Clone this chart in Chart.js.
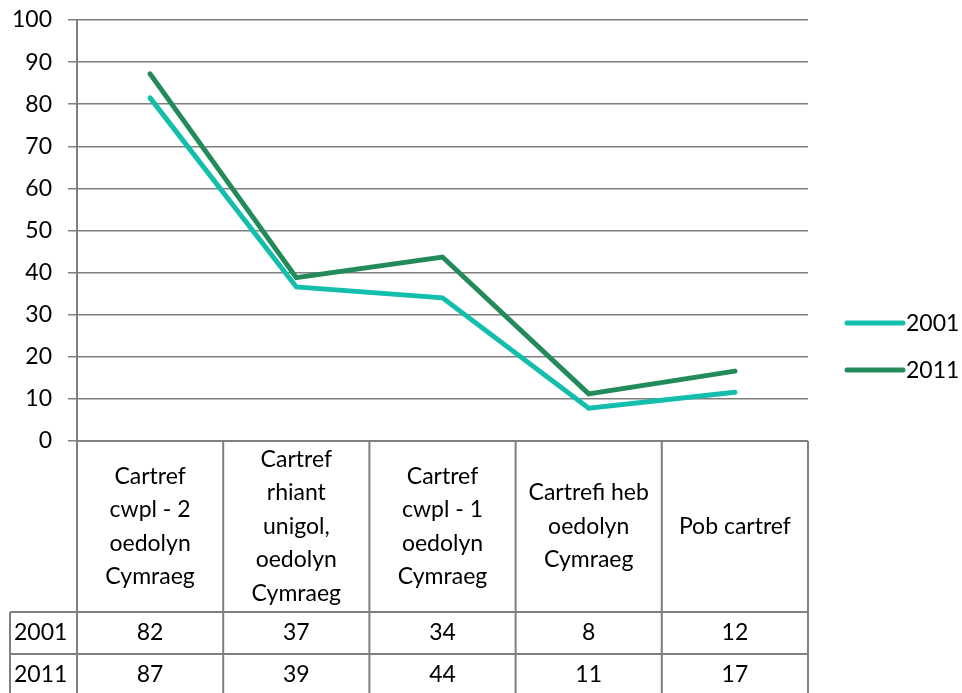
<!DOCTYPE html>
<html><head><meta charset="utf-8">
<style>html,body{margin:0;padding:0;background:#fff}#wrap{width:962px;height:693px}</style>
<script src="https://cdn.jsdelivr.net/npm/chart.js@4/dist/chart.umd.min.js"></script>
</head><body><div id="wrap"><canvas id="c" width="962" height="693"></canvas></div>
<script>
const categories = [
  ["Cartref", "cwpl - 2", "oedolyn", "Cymraeg"],
  ["Cartref", "rhiant", "unigol,", "oedolyn", "Cymraeg"],
  ["Cartref", "cwpl - 1", "oedolyn", "Cymraeg"],
  ["Cartrefi heb", "oedolyn", "Cymraeg"],
  ["Pob cartref"]
];
const seriesNames = ["2001", "2011"];
const values2001 = [81.5, 36.6, 34.0, 7.8, 11.6];
const values2011 = [87.2, 38.8, 43.7, 11.2, 16.6];
const yMin = 0, yMax = 100, yStep = 10;

const FONT = "Lato, 'Liberation Sans', sans-serif";
const FSIZE = 23;
const GRID = '#7f7f7f';
const colors = ['#13bfac', '#238b5a'];

const tablePlugin = {
  id: 'dataTable',
  afterDraw(chart) {
    const ctx = chart.ctx, xs = chart.scales.x, ys = chart.scales.y, ca = chart.chartArea;
    const n = chart.data.labels.length;
    const w = (ca.right - ca.left) / n;
    const top = ys.getPixelForValue(yMin);
    const hdrBottom = top + 171;
    const row1 = hdrBottom + 42;
    const row2 = row1 + 42;
    const leftCol = 10;
    const bounds = [];
    for (let i = 0; i < n; i++) bounds.push(xs.getPixelForValue(i) - w / 2);
    bounds.push(xs.getPixelForValue(n - 1) + w / 2);
    ctx.save();
    ctx.strokeStyle = GRID;
    ctx.lineWidth = 2;
    ctx.beginPath();
    bounds.forEach(b => { ctx.moveTo(b, top); ctx.lineTo(b, row2); });
    ctx.moveTo(ca.left, top); ctx.lineTo(bounds[n], top);
    ctx.moveTo(leftCol, hdrBottom); ctx.lineTo(bounds[n], hdrBottom);
    ctx.moveTo(leftCol, row1); ctx.lineTo(bounds[n], row1);
    ctx.moveTo(leftCol, row2); ctx.lineTo(bounds[n], row2);
    ctx.moveTo(leftCol, hdrBottom); ctx.lineTo(leftCol, row2);
    ctx.stroke();
    ctx.fillStyle = '#000';
    ctx.font = FSIZE + 'px ' + FONT;
    ctx.textAlign = 'center';
    ctx.textBaseline = 'middle';
    const lh = 33.5;
    const hdrMid = (top + hdrBottom) / 2;
    chart.data.labels.forEach((lines, i) => {
      const cx = xs.getPixelForValue(i);
      const y0 = hdrMid - (lines.length - 1) * lh / 2;
      lines.forEach((t, k) => ctx.fillText(t, cx, y0 + k * lh));
    });
    const rows = [[row1, hdrBottom], [row2, row1]];
    chart.data.datasets.forEach((ds, r) => {
      const my = (rows[r][0] + rows[r][1]) / 2;
      ctx.textAlign = 'center';
      ds.data.forEach((v, i) => ctx.fillText(String(Math.round(v)), xs.getPixelForValue(i), my));
      ctx.textAlign = 'left';
      ctx.fillText(ds.label, leftCol + 4, my);
    });
    const lx = ca.right + 39;
    const cy = chart.height / 2;
    chart.data.datasets.forEach((ds, i) => {
      const y = cy - 23.5 + i * 47;
      ctx.strokeStyle = ds.borderColor;
      ctx.lineWidth = 5;
      ctx.lineCap = 'round';
      ctx.beginPath(); ctx.moveTo(lx, y); ctx.lineTo(lx + 56, y); ctx.stroke();
      ctx.textAlign = 'left';
      ctx.fillStyle = '#000';
      ctx.fillText(ds.label, lx + 59, y + 1);
    });
    ctx.restore();
  }
};

new Chart(document.getElementById('c'), {
  type: 'line',
  data: {
    labels: categories,
    datasets: [
      { label: seriesNames[0], data: values2001, borderColor: colors[0], backgroundColor: colors[0] },
      { label: seriesNames[1], data: values2011, borderColor: colors[1], backgroundColor: colors[1] }
    ]
  },
  options: {
    responsive: false,
    animation: false,
    devicePixelRatio: 1,
    layout: { padding: { top: 20, right: 154, left: 0, bottom: 0 } },
    elements: {
      line: { borderWidth: 5, tension: 0, borderCapStyle: 'round', borderJoinStyle: 'miter', fill: false },
      point: { radius: 0, hoverRadius: 0 }
    },
    plugins: { legend: { display: false }, tooltip: { enabled: false } },
    scales: {
      x: {
        offset: true,
        ticks: { display: false },
        grid: { display: false, drawTicks: false },
        border: { display: false },
        afterFit(s) { s.height = 252; }
      },
      y: {
        min: yMin, max: yMax,
        ticks: { stepSize: yStep, color: '#000', font: { family: FONT, size: FSIZE }, padding: 16 },
        grid: { color: GRID, lineWidth: 1.5, tickLength: 9, drawTicks: true },
        border: { color: GRID, width: 2 },
        afterFit(s) { s.width = 77; s.paddingTop = 0; s.paddingBottom = 0; }
      }
    }
  },
  plugins: [tablePlugin]
});
</script>
</body></html>
